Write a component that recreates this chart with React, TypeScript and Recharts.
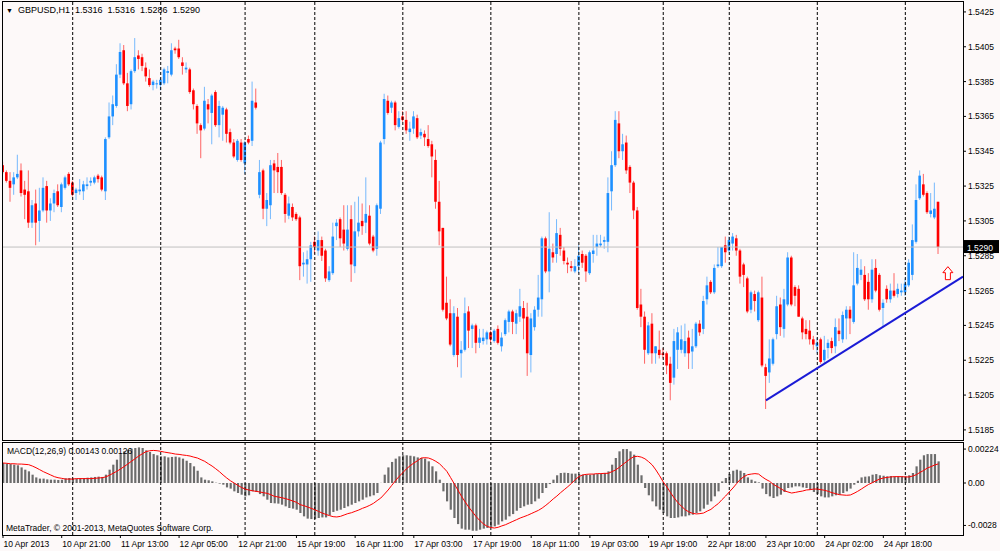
import React from 'react';
import { ComposedChart, Bar, Line, XAxis, YAxis, ReferenceLine, ReferenceDot } from 'recharts';

// hourly GBPUSD bars, index 0 = 10 Apr 2013 first bar on screen
const opens = [
  1.5337, 1.5333, 1.5328, 1.5326, 1.5330, 1.5334, 1.5323, 1.5322, 1.5304, 1.5315,
  1.5305, 1.5311, 1.5325, 1.5311, 1.5315, 1.5322, 1.5313, 1.5324, 1.5332, 1.5327,
  1.5321, 1.5322, 1.5322, 1.5325, 1.5327, 1.5327, 1.5331, 1.5330, 1.5322, 1.5353,
  1.5365, 1.5371, 1.5389, 1.5403, 1.5384, 1.5372, 1.5391, 1.5400, 1.5399, 1.5393,
  1.5387, 1.5383, 1.5384, 1.5383, 1.5384, 1.5390, 1.5389, 1.5404, 1.5404, 1.5396,
  1.5392, 1.5392, 1.5380, 1.5371, 1.5360, 1.5358, 1.5372, 1.5367, 1.5379, 1.5360,
  1.5366, 1.5369, 1.5356, 1.5350, 1.5340, 1.5350, 1.5338, 1.5352, 1.5351, 1.5373,
  1.5320, 1.5334, 1.5312, 1.5314, 1.5338, 1.5336, 1.5336, 1.5320, 1.5308, 1.5313,
  1.5309, 1.5307, 1.5280, 1.5280, 1.5283, 1.5293, 1.5288, 1.5294, 1.5288, 1.5271,
  1.5275, 1.5302, 1.5306, 1.5300, 1.5289, 1.5306, 1.5279, 1.5299, 1.5305, 1.5304,
  1.5308, 1.5296, 1.5289, 1.5312, 1.5352, 1.5374, 1.5370, 1.5373, 1.5359, 1.5365,
  1.5363, 1.5356, 1.5358, 1.5364, 1.5354, 1.5355, 1.5352, 1.5349, 1.5340, 1.5316,
  1.5301, 1.5258, 1.5252, 1.5228, 1.5250, 1.5229, 1.5231, 1.5253, 1.5243, 1.5245,
  1.5235, 1.5236, 1.5237, 1.5241, 1.5236, 1.5243, 1.5233, 1.5240, 1.5247, 1.5253,
  1.5246, 1.5250, 1.5255, 1.5250, 1.5228, 1.5244, 1.5254, 1.5260, 1.5295, 1.5276,
  1.5287, 1.5286, 1.5297, 1.5288, 1.5281, 1.5279, 1.5276, 1.5279, 1.5286, 1.5285,
  1.5275, 1.5286, 1.5290, 1.5291, 1.5293, 1.5293, 1.5322, 1.5337, 1.5361, 1.5345,
  1.5350, 1.5336, 1.5327, 1.5311, 1.5257, 1.5250, 1.5229, 1.5246, 1.5229, 1.5231,
  1.5229, 1.5229, 1.5223, 1.5215, 1.5231, 1.5231, 1.5229, 1.5238, 1.5230, 1.5233,
  1.5246, 1.5243, 1.5260, 1.5270, 1.5264, 1.5279, 1.5279, 1.5291, 1.5288, 1.5292,
  1.5295, 1.5288, 1.5280, 1.5272, 1.5254, 1.5263, 1.5248, 1.5261, 1.5221, 1.5218,
  1.5223, 1.5240, 1.5257, 1.5243, 1.5257, 1.5284, 1.5267, 1.5266, 1.5249, 1.5243,
  1.5242, 1.5237, 1.5233, 1.5237, 1.5225, 1.5232, 1.5236, 1.5233, 1.5242, 1.5237,
  1.5249, 1.5254, 1.5247, 1.5269, 1.5274, 1.5274, 1.5270, 1.5260, 1.5278, 1.5274,
  1.5255, 1.5266, 1.5260, 1.5265, 1.5263, 1.5264, 1.5264, 1.5268, 1.5274, 1.5293,
  1.5318, 1.5326, 1.5321, 1.5309, 1.5307, 1.5316,
];

const highs = [
  1.5339, 1.5334, 1.5333, 1.5333, 1.5343, 1.5338, 1.5328, 1.5334, 1.5317, 1.5323,
  1.5324, 1.5330, 1.5328, 1.5318, 1.5323, 1.5326, 1.5327, 1.5331, 1.5333, 1.5328,
  1.5324, 1.5329, 1.5328, 1.5330, 1.5330, 1.5331, 1.5332, 1.5331, 1.5353, 1.5373,
  1.5377, 1.5395, 1.5407, 1.5406, 1.5390, 1.5392, 1.5410, 1.5403, 1.5401, 1.5396,
  1.5392, 1.5386, 1.5386, 1.5387, 1.5393, 1.5394, 1.5407, 1.5405, 1.5409, 1.5399,
  1.5396, 1.5393, 1.5381, 1.5372, 1.5361, 1.5382, 1.5375, 1.5378, 1.5380, 1.5374,
  1.5371, 1.5370, 1.5358, 1.5352, 1.5352, 1.5352, 1.5351, 1.5354, 1.5385, 1.5381,
  1.5340, 1.5335, 1.5321, 1.5340, 1.5340, 1.5344, 1.5340, 1.5321, 1.5319, 1.5315,
  1.5310, 1.5308, 1.5287, 1.5288, 1.5293, 1.5296, 1.5299, 1.5296, 1.5289, 1.5279,
  1.5304, 1.5306, 1.5307, 1.5314, 1.5314, 1.5314, 1.5316, 1.5319, 1.5315, 1.5330,
  1.5314, 1.5297, 1.5315, 1.5351, 1.5378, 1.5377, 1.5374, 1.5374, 1.5368, 1.5368,
  1.5368, 1.5362, 1.5368, 1.5366, 1.5358, 1.5357, 1.5360, 1.5351, 1.5346, 1.5328,
  1.5301, 1.5273, 1.5260, 1.5256, 1.5255, 1.5236, 1.5261, 1.5256, 1.5246, 1.5246,
  1.5243, 1.5243, 1.5242, 1.5242, 1.5243, 1.5245, 1.5241, 1.5249, 1.5254, 1.5254,
  1.5254, 1.5266, 1.5259, 1.5258, 1.5252, 1.5256, 1.5274, 1.5296, 1.5296, 1.5310,
  1.5292, 1.5306, 1.5301, 1.5290, 1.5284, 1.5282, 1.5283, 1.5291, 1.5288, 1.5286,
  1.5288, 1.5297, 1.5297, 1.5297, 1.5296, 1.5330, 1.5345, 1.5368, 1.5368, 1.5355,
  1.5354, 1.5337, 1.5328, 1.5313, 1.5266, 1.5253, 1.5247, 1.5252, 1.5233, 1.5242,
  1.5232, 1.5230, 1.5227, 1.5243, 1.5244, 1.5245, 1.5246, 1.5242, 1.5243, 1.5247,
  1.5248, 1.5262, 1.5273, 1.5271, 1.5280, 1.5290, 1.5290, 1.5296, 1.5296, 1.5298,
  1.5297, 1.5289, 1.5281, 1.5273, 1.5265, 1.5265, 1.5265, 1.5273, 1.5223, 1.5237,
  1.5238, 1.5262, 1.5261, 1.5266, 1.5287, 1.5285, 1.5268, 1.5268, 1.5250, 1.5248,
  1.5248, 1.5239, 1.5238, 1.5238, 1.5239, 1.5237, 1.5238, 1.5249, 1.5249, 1.5253,
  1.5256, 1.5256, 1.5287, 1.5286, 1.5283, 1.5279, 1.5275, 1.5283, 1.5283, 1.5275,
  1.5260, 1.5268, 1.5269, 1.5275, 1.5269, 1.5269, 1.5272, 1.5283, 1.5303, 1.5326,
  1.5334, 1.5332, 1.5322, 1.5321, 1.5327, 1.5316,
];

const lows = [
  1.5332, 1.5327, 1.5316, 1.5320, 1.5329, 1.5319, 1.5306, 1.5301, 1.5301, 1.5291,
  1.5293, 1.5310, 1.5304, 1.5305, 1.5310, 1.5313, 1.5310, 1.5323, 1.5325, 1.5319,
  1.5317, 1.5320, 1.5317, 1.5323, 1.5325, 1.5326, 1.5327, 1.5322, 1.5317, 1.5352,
  1.5360, 1.5370, 1.5387, 1.5383, 1.5368, 1.5369, 1.5390, 1.5392, 1.5391, 1.5385,
  1.5382, 1.5380, 1.5381, 1.5380, 1.5383, 1.5384, 1.5388, 1.5401, 1.5398, 1.5389,
  1.5390, 1.5378, 1.5369, 1.5355, 1.5341, 1.5357, 1.5361, 1.5349, 1.5359, 1.5353,
  1.5351, 1.5350, 1.5349, 1.5341, 1.5339, 1.5339, 1.5332, 1.5349, 1.5348, 1.5369,
  1.5318, 1.5306, 1.5302, 1.5306, 1.5321, 1.5321, 1.5320, 1.5304, 1.5306, 1.5305,
  1.5305, 1.5271, 1.5273, 1.5269, 1.5270, 1.5286, 1.5285, 1.5282, 1.5270, 1.5270,
  1.5274, 1.5294, 1.5290, 1.5288, 1.5288, 1.5270, 1.5275, 1.5296, 1.5297, 1.5298,
  1.5291, 1.5287, 1.5285, 1.5309, 1.5349, 1.5366, 1.5367, 1.5357, 1.5358, 1.5362,
  1.5355, 1.5351, 1.5355, 1.5352, 1.5352, 1.5348, 1.5347, 1.5330, 1.5312, 1.5291,
  1.5253, 1.5248, 1.5233, 1.5227, 1.5221, 1.5215, 1.5230, 1.5232, 1.5232, 1.5229,
  1.5232, 1.5234, 1.5234, 1.5235, 1.5235, 1.5234, 1.5230, 1.5239, 1.5241, 1.5240,
  1.5240, 1.5247, 1.5237, 1.5216, 1.5218, 1.5242, 1.5250, 1.5250, 1.5275, 1.5264,
  1.5281, 1.5281, 1.5285, 1.5280, 1.5275, 1.5276, 1.5275, 1.5275, 1.5278, 1.5270,
  1.5274, 1.5281, 1.5285, 1.5290, 1.5289, 1.5287, 1.5311, 1.5336, 1.5341, 1.5340,
  1.5332, 1.5321, 1.5306, 1.5254, 1.5244, 1.5223, 1.5228, 1.5223, 1.5223, 1.5226,
  1.5226, 1.5217, 1.5202, 1.5211, 1.5220, 1.5229, 1.5227, 1.5220, 1.5220, 1.5232,
  1.5239, 1.5240, 1.5257, 1.5263, 1.5263, 1.5278, 1.5278, 1.5281, 1.5287, 1.5288,
  1.5285, 1.5269, 1.5267, 1.5252, 1.5252, 1.5253, 1.5247, 1.5221, 1.5197, 1.5212,
  1.5222, 1.5237, 1.5239, 1.5238, 1.5256, 1.5256, 1.5256, 1.5250, 1.5237, 1.5237,
  1.5234, 1.5231, 1.5229, 1.5223, 1.5223, 1.5226, 1.5229, 1.5229, 1.5236, 1.5235,
  1.5237, 1.5240, 1.5246, 1.5268, 1.5271, 1.5259, 1.5254, 1.5258, 1.5264, 1.5253,
  1.5244, 1.5258, 1.5258, 1.5261, 1.5261, 1.5262, 1.5262, 1.5267, 1.5271, 1.5292,
  1.5317, 1.5319, 1.5309, 1.5307, 1.5306, 1.5286,
];

const closes = [
  1.5333, 1.5328, 1.5324, 1.5330, 1.5332, 1.5321, 1.5320, 1.5304, 1.5314, 1.5304,
  1.5311, 1.5324, 1.5311, 1.5315, 1.5321, 1.5314, 1.5326, 1.5330, 1.5326, 1.5320,
  1.5323, 1.5323, 1.5326, 1.5326, 1.5328, 1.5330, 1.5329, 1.5323, 1.5352, 1.5365,
  1.5372, 1.5389, 1.5402, 1.5384, 1.5371, 1.5391, 1.5399, 1.5398, 1.5394, 1.5388,
  1.5383, 1.5385, 1.5384, 1.5386, 1.5392, 1.5391, 1.5403, 1.5403, 1.5399, 1.5394,
  1.5393, 1.5379, 1.5372, 1.5361, 1.5357, 1.5374, 1.5369, 1.5377, 1.5360, 1.5371,
  1.5370, 1.5355, 1.5350, 1.5342, 1.5351, 1.5340, 1.5350, 1.5350, 1.5374, 1.5370,
  1.5333, 1.5312, 1.5317, 1.5337, 1.5334, 1.5333, 1.5321, 1.5309, 1.5315, 1.5307,
  1.5306, 1.5279, 1.5281, 1.5283, 1.5291, 1.5290, 1.5294, 1.5285, 1.5272, 1.5276,
  1.5296, 1.5304, 1.5295, 1.5292, 1.5300, 1.5280, 1.5299, 1.5304, 1.5302, 1.5309,
  1.5292, 1.5288, 1.5314, 1.5350, 1.5375, 1.5367, 1.5373, 1.5360, 1.5364, 1.5363,
  1.5357, 1.5358, 1.5365, 1.5353, 1.5356, 1.5353, 1.5348, 1.5342, 1.5316, 1.5299,
  1.5254, 1.5249, 1.5234, 1.5252, 1.5228, 1.5231, 1.5252, 1.5242, 1.5245, 1.5235,
  1.5238, 1.5238, 1.5241, 1.5237, 1.5242, 1.5235, 1.5238, 1.5248, 1.5253, 1.5247,
  1.5252, 1.5256, 1.5249, 1.5229, 1.5249, 1.5254, 1.5261, 1.5295, 1.5276, 1.5289,
  1.5284, 1.5298, 1.5289, 1.5282, 1.5280, 1.5278, 1.5279, 1.5285, 1.5281, 1.5276,
  1.5287, 1.5288, 1.5292, 1.5292, 1.5294, 1.5321, 1.5337, 1.5363, 1.5345, 1.5349,
  1.5334, 1.5327, 1.5311, 1.5255, 1.5250, 1.5231, 1.5245, 1.5229, 1.5233, 1.5228,
  1.5228, 1.5222, 1.5212, 1.5236, 1.5241, 1.5237, 1.5236, 1.5229, 1.5233, 1.5246,
  1.5241, 1.5259, 1.5268, 1.5264, 1.5278, 1.5280, 1.5290, 1.5287, 1.5294, 1.5296,
  1.5288, 1.5273, 1.5274, 1.5253, 1.5264, 1.5259, 1.5264, 1.5222, 1.5216, 1.5226,
  1.5237, 1.5256, 1.5244, 1.5260, 1.5284, 1.5257, 1.5262, 1.5250, 1.5241, 1.5240,
  1.5237, 1.5234, 1.5235, 1.5224, 1.5231, 1.5235, 1.5232, 1.5244, 1.5240, 1.5251,
  1.5254, 1.5249, 1.5268, 1.5278, 1.5277, 1.5260, 1.5260, 1.5277, 1.5265, 1.5254,
  1.5258, 1.5260, 1.5265, 1.5262, 1.5266, 1.5265, 1.5269, 1.5281, 1.5294, 1.5317,
  1.5331, 1.5320, 1.5310, 1.5311, 1.5312, 1.5290,
];

// MACD(12,26,9): main histogram and signal line
const macdHist = [
  0.00132, 0.00128, 0.00125, 0.00121, 0.00117, 0.00103, 0.00088, 0.00077, 0.00055, 0.00037,
  0.00029, 0.00029, 0.00024, 0.00022, 0.00022, 0.00020, 0.00022, 0.00031, 0.00033, 0.00031,
  0.00029, 0.00031, 0.00033, 0.00035, 0.00037, 0.00040, 0.00042, 0.00040, 0.00055, 0.00088,
  0.00121, 0.00154, 0.00191, 0.00209, 0.00220, 0.00227, 0.00231, 0.00235, 0.00231, 0.00216,
  0.00205, 0.00191, 0.00183, 0.00176, 0.00176, 0.00169, 0.00172, 0.00174, 0.00169, 0.00161,
  0.00147, 0.00132, 0.00110, 0.00081, 0.00037, 0.00022, 0.00018, 0.00011, 0.00002, -0.00004,
  -0.00011, -0.00029, -0.00037, -0.00055, -0.00066, -0.00077, -0.00088, -0.00081, -0.00055, -0.00059,
  -0.00073, -0.00088, -0.00110, -0.00132, -0.00134, -0.00136, -0.00143, -0.00154, -0.00165, -0.00169,
  -0.00176, -0.00198, -0.00220, -0.00235, -0.00238, -0.00238, -0.00231, -0.00227, -0.00227, -0.00213,
  -0.00191, -0.00183, -0.00176, -0.00165, -0.00154, -0.00143, -0.00132, -0.00121, -0.00110, -0.00095,
  -0.00088, -0.00081, -0.00066, 0.00001, 0.00055, 0.00103, 0.00139, 0.00161, 0.00176, 0.00183,
  0.00183, 0.00180, 0.00176, 0.00169, 0.00165, 0.00161, 0.00143, 0.00110, 0.00077, 0.00022,
  -0.00055, -0.00121, -0.00176, -0.00231, -0.00271, -0.00301, -0.00308, -0.00308, -0.00315, -0.00315,
  -0.00308, -0.00301, -0.00297, -0.00293, -0.00286, -0.00275, -0.00253, -0.00242, -0.00220, -0.00205,
  -0.00183, -0.00165, -0.00154, -0.00143, -0.00139, -0.00121, -0.00103, -0.00066, -0.00033, -0.00007,
  0.00022, 0.00051, 0.00066, 0.00068, 0.00066, 0.00062, 0.00062, 0.00059, 0.00055, 0.00055,
  0.00055, 0.00059, 0.00059, 0.00062, 0.00066, 0.00077, 0.00121, 0.00165, 0.00209, 0.00224,
  0.00224, 0.00209, 0.00187, 0.00121, 0.00051, -0.00033, -0.00081, -0.00121, -0.00154, -0.00176,
  -0.00198, -0.00220, -0.00231, -0.00231, -0.00227, -0.00220, -0.00220, -0.00213, -0.00209, -0.00198,
  -0.00187, -0.00169, -0.00143, -0.00121, -0.00088, -0.00055, 0.00011, 0.00033, 0.00059, 0.00081,
  0.00088, 0.00081, 0.00066, 0.00037, 0.00022, 0.00011, 0.00004, -0.00037, -0.00073, -0.00088,
  -0.00099, -0.00088, -0.00077, -0.00059, -0.00033, -0.00029, -0.00022, -0.00022, -0.00029, -0.00033,
  -0.00044, -0.00059, -0.00073, -0.00088, -0.00095, -0.00095, -0.00088, -0.00081, -0.00077, -0.00066,
  -0.00055, -0.00037, -0.00011, 0.00015, 0.00037, 0.00042, 0.00044, 0.00055, 0.00059, 0.00051,
  0.00048, 0.00044, 0.00046, 0.00044, 0.00044, 0.00044, 0.00044, 0.00051, 0.00066, 0.00110,
  0.00154, 0.00183, 0.00191, 0.00191, 0.00191, 0.00143,
];

const macdSignal = [
  0.00132, 0.00130, 0.00127, 0.00127, 0.00125, 0.00125, 0.00123, 0.00121, 0.00112, 0.00101,
  0.00088, 0.00075, 0.00064, 0.00053, 0.00042, 0.00035, 0.00031, 0.00026, 0.00026, 0.00026,
  0.00029, 0.00029, 0.00029, 0.00029, 0.00029, 0.00031, 0.00033, 0.00035, 0.00040, 0.00051,
  0.00064, 0.00077, 0.00092, 0.00108, 0.00125, 0.00143, 0.00160, 0.00178, 0.00193, 0.00207,
  0.00213, 0.00215, 0.00213, 0.00209, 0.00204, 0.00200, 0.00196, 0.00191, 0.00189, 0.00185,
  0.00182, 0.00178, 0.00171, 0.00165, 0.00154, 0.00143, 0.00127, 0.00112, 0.00094, 0.00075,
  0.00053, 0.00033, 0.00015, 0.00000, -0.00015, -0.00029, -0.00040, -0.00046, -0.00051, -0.00055,
  -0.00059, -0.00064, -0.00068, -0.00077, -0.00088, -0.00092, -0.00097, -0.00103, -0.00110, -0.00119,
  -0.00127, -0.00143, -0.00149, -0.00158, -0.00167, -0.00176, -0.00187, -0.00198, -0.00207, -0.00215,
  -0.00222, -0.00224, -0.00220, -0.00211, -0.00202, -0.00196, -0.00187, -0.00178, -0.00167, -0.00158,
  -0.00147, -0.00134, -0.00116, -0.00099, -0.00073, -0.00046, -0.00015, 0.00015, 0.00044, 0.00068,
  0.00094, 0.00114, 0.00132, 0.00147, 0.00165, 0.00167, 0.00165, 0.00156, 0.00143, 0.00127,
  0.00103, 0.00077, 0.00037, -0.00004, -0.00046, -0.00088, -0.00125, -0.00160, -0.00191, -0.00222,
  -0.00248, -0.00270, -0.00286, -0.00294, -0.00297, -0.00292, -0.00283, -0.00275, -0.00264, -0.00253,
  -0.00242, -0.00231, -0.00222, -0.00213, -0.00202, -0.00191, -0.00180, -0.00165, -0.00147, -0.00127,
  -0.00105, -0.00086, -0.00064, -0.00044, -0.00024, -0.00002, 0.00022, 0.00042, 0.00053, 0.00057,
  0.00059, 0.00059, 0.00062, 0.00062, 0.00064, 0.00064, 0.00075, 0.00086, 0.00103, 0.00123,
  0.00141, 0.00160, 0.00174, 0.00176, 0.00171, 0.00160, 0.00141, 0.00119, 0.00086, 0.00048,
  0.00007, -0.00026, -0.00064, -0.00099, -0.00130, -0.00154, -0.00176, -0.00191, -0.00200, -0.00204,
  -0.00202, -0.00198, -0.00185, -0.00174, -0.00154, -0.00136, -0.00110, -0.00086, -0.00059, -0.00033,
  -0.00004, 0.00024, 0.00042, 0.00055, 0.00059, 0.00062, 0.00059, 0.00040, 0.00024, 0.00011,
  -0.00009, -0.00022, -0.00037, -0.00051, -0.00059, -0.00066, -0.00062, -0.00057, -0.00053, -0.00046,
  -0.00044, -0.00040, -0.00040, -0.00044, -0.00048, -0.00055, -0.00064, -0.00070, -0.00077, -0.00079,
  -0.00081, -0.00079, -0.00068, -0.00055, -0.00040, -0.00024, -0.00009, 0.00002, 0.00015, 0.00026,
  0.00033, 0.00037, 0.00040, 0.00042, 0.00042, 0.00042, 0.00040, 0.00040, 0.00046, 0.00055,
  0.00070, 0.00083, 0.00099, 0.00108, 0.00119, 0.00126,
];

const timeLabels = [
  '10 Apr 2013', '10 Apr 21:00', '11 Apr 13:00', '12 Apr 05:00', '12 Apr 21:00', '15 Apr 19:00',
  '16 Apr 11:00', '17 Apr 03:00', '17 Apr 19:00', '18 Apr 11:00', '19 Apr 03:00', '19 Apr 19:00',
  '22 Apr 18:00', '23 Apr 10:00', '24 Apr 02:00', '24 Apr 18:00',
];
const timeTickIdx = [0, 16, 32, 48, 64, 80, 96, 112, 128, 144, 160, 176, 192, 208, 224, 240];
const daySeparators = [19, 43, 66, 85, 109, 133, 157, 180, 198, 222, 246];

const priceTicks = [
  1.5185, 1.5205, 1.5225, 1.5245, 1.5265, 1.5285, 1.5305, 1.5325, 1.5345, 1.5365, 1.5385, 1.5405, 1.5425,
];
const macdTicks = [-0.0028, 0, 0.00224];
const macdTickLabels = ['-0.0028', '0.00', '0.00224'];

const lastPrice = 1.529;
const trendStart = { x: 208, y: 1.5202 };
const trendEnd = { x: 261.72, y: 1.5273 };
const arrowMark = { x: 257.6, y: 1.5275 };

const candles = opens.map((open, i) => ({ i, open, high: highs[i], low: lows[i], close: closes[i] }));
const macdRows = macdHist.map((macd, i) => ({ i, macd, signal: macdSignal[i] }));

const FONT = "'Liberation Sans', Arial, sans-serif";
const X_DOMAIN: [number, number] = [0, 261.72];
const BG = '#fdf9f9';

function Candle(props: any) {
  const { x, y, width, height } = props;
  const d = props.payload || props;
  const { open, close, high, low } = d;
  const cx = x + width / 2;
  const span = high - low || 1;
  const toY = (v: number) => y + ((high - v) / span) * height;
  const up = close >= open;
  const color = up ? '#1e90ff' : '#ff0000';
  const top = toY(Math.max(open, close));
  const bot = toY(Math.min(open, close));
  return (
    <g>
      <line x1={cx} x2={cx} y1={y} y2={y + height} stroke={color} strokeOpacity={0.6} strokeWidth={1} />
      <rect x={cx - 1.3} y={top} width={2.6} height={Math.max(bot - top, 1)} fill={color} />
    </g>
  );
}

function PriceTag(props: any) {
  const vb = props.viewBox || {};
  const x = vb.x + vb.width;
  const y = vb.y;
  return (
    <g>
      <rect x={x + 1} y={y - 7} width={35} height={13} fill="#000" />
      <text x={x + 4} y={y + 3.5} fill="#fff" fontSize={8.5} fontFamily={FONT}>
        {lastPrice.toFixed(4)}
      </text>
    </g>
  );
}

function UpArrow(props: any) {
  const { cx, cy } = props;
  const d = `M${cx},${cy - 6.5} L${cx + 5},${cy - 0.5} L${cx + 2.5},${cy - 0.5} L${cx + 2.5},${cy + 6.5} L${cx - 2.5},${cy + 6.5} L${cx - 2.5},${cy - 0.5} L${cx - 5},${cy - 0.5} Z`;
  return <path d={d} fill="#fff" stroke="#ff0000" strokeWidth={1} />;
}

function TimeTick(props: any) {
  const { x, y, payload } = props;
  const k = timeTickIdx.indexOf(payload.value);
  return (
    <g>
      <line x1={x} x2={x} y1={y} y2={y + 3} stroke="#000" />
      <text x={x + 0.5} y={y + 11.5} fontSize={8.5} fontFamily={FONT} fill="#000">
        {timeLabels[k]}
      </text>
    </g>
  );
}

const axisTick = { fontSize: 8.5, fill: '#000', fontFamily: FONT };

export default function App() {
  return (
    <div
      style={{
        position: 'absolute',
        left: 0,
        top: 0,
        width: 1000,
        height: 551,
        background: BG,
        overflow: 'hidden',
        fontFamily: FONT,
        color: '#000',
      }}
    >
      <div style={{ position: 'absolute', left: 0, top: 0 }}>
        <ComposedChart width={1000} height={440} data={candles} margin={{ top: 2, right: 0, bottom: 0, left: 3 }}>
          <XAxis type="number" dataKey="i" domain={X_DOMAIN} hide allowDataOverflow />
          <YAxis
            orientation="right"
            width={37}
            domain={[1.51792, 1.54307]}
            ticks={priceTicks}
            interval={0}
            allowDataOverflow
            tickFormatter={(v: number) => v.toFixed(4)}
            tick={axisTick}
            tickSize={3}
            tickMargin={2}
            tickLine={{ stroke: '#000' }}
            axisLine={false}
          />
          <ReferenceLine y={lastPrice} stroke="#c0c0c0" label={(p: any) => <PriceTag {...p} />} />
          {daySeparators.map((s) => (
            <ReferenceLine key={s} x={s} stroke="#000" strokeDasharray="3 2" />
          ))}
          <Bar
            dataKey={(d: any) => [d.low, d.high]}
            barSize={3}
            shape={(p: any) => <Candle {...p} />}
            isAnimationActive={false}
          />
          <ReferenceLine segment={[trendStart, trendEnd]} stroke="#1b1bd6" strokeWidth={2} ifOverflow="visible" />
          <ReferenceDot x={arrowMark.x} y={arrowMark.y} r={6} shape={(p: any) => <UpArrow {...p} />} />
        </ComposedChart>
      </div>

      <div style={{ position: 'absolute', left: 0, top: 442 }}>
        <ComposedChart width={1000} height={109} data={macdRows} margin={{ top: 1, right: 0, bottom: 0, left: 3 }}>
          <XAxis
            type="number"
            dataKey="i"
            domain={X_DOMAIN}
            allowDataOverflow
            ticks={timeTickIdx}
            interval={0}
            tick={(p: any) => <TimeTick {...p} />}
            tickLine={false}
            axisLine={false}
            tickSize={0}
            tickMargin={0}
            height={16}
          />
          <YAxis
            orientation="right"
            width={37}
            domain={[-0.00343, 0.00264]}
            ticks={macdTicks}
            interval={0}
            allowDataOverflow
            tickFormatter={(v: number) => macdTickLabels[macdTicks.indexOf(v)] ?? String(v)}
            tick={axisTick}
            tickSize={3}
            tickMargin={2}
            tickLine={{ stroke: '#000' }}
            axisLine={false}
          />
          {daySeparators.map((s) => (
            <ReferenceLine key={s} x={s} stroke="#000" strokeDasharray="3 2" />
          ))}
          <Bar dataKey="macd" barSize={2.2} fill="#6c6c6c" isAnimationActive={false} />
          <Line type="linear" dataKey="signal" stroke="#ff0000" strokeWidth={1} dot={false} isAnimationActive={false} />
        </ComposedChart>
      </div>

      {/* panel frames */}
      <div
        style={{
          position: 'absolute',
          left: 2,
          top: 1,
          width: 962,
          height: 440,
          border: '1px solid #000',
          boxSizing: 'border-box',
          pointerEvents: 'none',
        }}
      />
      <div
        style={{
          position: 'absolute',
          left: 2,
          top: 442,
          width: 962,
          height: 94,
          border: '1px solid #000',
          boxSizing: 'border-box',
          pointerEvents: 'none',
        }}
      />

      <div style={{ position: 'absolute', left: 6, top: 4, fontSize: 9, lineHeight: '12px', whiteSpace: 'nowrap' }}>
        <span style={{ fontSize: 7, marginRight: 5 }}>▼</span>
        GBPUSD,H1&nbsp; 1.5316&nbsp; 1.5316&nbsp; 1.5286&nbsp; 1.5290
      </div>
      <div style={{ position: 'absolute', left: 7, top: 445, fontSize: 8.5, lineHeight: '12px', whiteSpace: 'nowrap' }}>
        MACD(12,26,9) 0.00143 0.00126
      </div>
      <div style={{ position: 'absolute', left: 6, top: 522, fontSize: 8.5, lineHeight: '12px', whiteSpace: 'nowrap' }}>
        MetaTrader, © 2001-2013, MetaQuotes Software Corp.
      </div>
    </div>
  );
}
